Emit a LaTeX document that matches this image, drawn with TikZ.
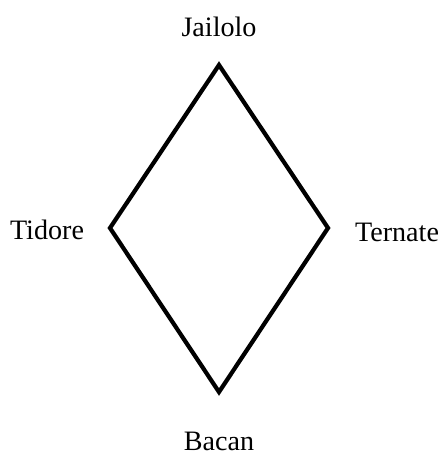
\documentclass[tikz,border=0pt]{standalone}
\usepackage{fontspec}
\setmainfont{Liberation Serif}
\usetikzlibrary{calc}
\definecolor{islandink}{HTML}{000000}

\begin{document}
\begin{tikzpicture}[
  font=\rmfamily\fontsize{16}{19}\selectfont,
  island/.style={
    text=islandink,
    inner sep=0pt
  },
  edge/.style={
    draw=islandink,
    line width=2.4pt,
    line join=miter
  }
]
\useasboundingbox (0,0) rectangle (8.84,9.12);

\coordinate (top) at (4.38,7.82);
\coordinate (left) at (2.20,4.56);
\coordinate (right) at (6.56,4.56);
\coordinate (bottom) at (4.38,1.28);

\node[island] (jailolo) at (4.38,8.58) {Jailolo};
\node[island] (tidore) at (0.94,4.52) {Tidore};
\node[island] (ternate) at (7.94,4.48) {Ternate};
\node[island] (bacan) at (4.38,0.30) {Bacan};

\draw[edge] (top) -- (right) -- (bottom) -- (left) -- cycle;

\end{tikzpicture}
\end{document}
